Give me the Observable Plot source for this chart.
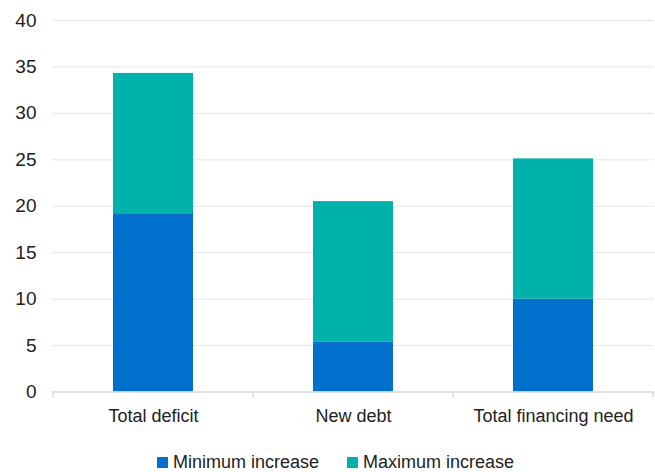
<!DOCTYPE html>
<html><head><meta charset="utf-8">
<script src="https://cdn.jsdelivr.net/npm/d3@7"></script>
<script src="https://cdn.jsdelivr.net/npm/@observablehq/plot@0.6"></script>
<style>
body{margin:0;background:#fff;font-family:"Liberation Sans",Arial,sans-serif;}
#legend{display:flex;justify-content:flex-start;font-size:18px;color:#222;height:44px;align-items:center;padding-left:157px}
.item{display:flex;align-items:center;margin-right:28px}
.sw{width:11px;height:11px;margin-right:5px;display:inline-block}
</style></head>
<body>
<div id="chart"></div>
<div id="legend"></div>
<script>
const categories = ["Total deficit", "New debt", "Total financing need"];
const seriesNames = ["Minimum increase", "Maximum increase"];
const minIncrease = [19.2, 5.4, 10.0];
const maxIncrease = [15.1, 15.1, 15.1];
const yTicks = [0, 5, 10, 15, 20, 25, 30, 35, 40];
const colors = ["#0070cc", "#00b2a9"];

const data = [];
categories.forEach((c, i) => {
  data.push({cat: c, series: seriesNames[0], value: minIncrease[i]});
  data.push({cat: c, series: seriesNames[1], value: maxIncrease[i]});
});

const W = 655, H = 440, ML = 52, MR = 1;

const chart = Plot.plot({
  width: W, height: H,
  marginLeft: ML, marginRight: MR, marginTop: 20, marginBottom: 48.5,
  style: {fontFamily: '"Liberation Sans", Arial, sans-serif', fontSize: "18px", color: "#222", background: "#fff"},
  x: {domain: categories, paddingInner: 0.6, paddingOuter: 0.3, label: null},
  y: {domain: [0, 40], ticks: yTicks, label: null},
  color: {domain: seriesNames, range: colors},
  marks: [
    Plot.gridY(yTicks.filter(d => d > 0), {stroke: "#e6e6e6", strokeOpacity: 1}),
    Plot.barY(data, Plot.stackY({x: "cat", y: "value", fill: "series", order: seriesNames})),
    Plot.ruleY([0], {stroke: "#d9d9d9", strokeWidth: 1.5}),
    Plot.axisY({ticks: yTicks, tickSize: 0, tickPadding: 16, fontSize: 19, fill: "#222"}),
    Plot.axisX({tickSize: 0, tickPadding: 17, fontSize: 18, fill: "#222"})
  ]
});
document.getElementById("chart").appendChild(chart);

// category boundary tick marks below baseline
const xs = chart.scale("x"), ys = chart.scale("y");
const svg = d3.select(chart);
const y0 = ys.apply(0);
const bounds = categories.map(c => xs.apply(c) - xs.step * xs.paddingOuter);
bounds.push(xs.apply(categories[categories.length - 1]) + xs.bandwidth + xs.step * xs.paddingOuter);
svg.append("g").selectAll("line").data(bounds).join("line")
  .attr("x1", d => d).attr("x2", d => d)
  .attr("y1", y0).attr("y2", y0 + 6)
  .attr("stroke", "#d9d9d9").attr("stroke-width", 1.5);

const legend = d3.select("#legend");
seriesNames.forEach((s, i) => {
  const it = legend.append("div").attr("class", "item");
  it.append("span").attr("class", "sw").style("background", colors[i]);
  it.append("span").text(s);
});
</script>
</body></html>
